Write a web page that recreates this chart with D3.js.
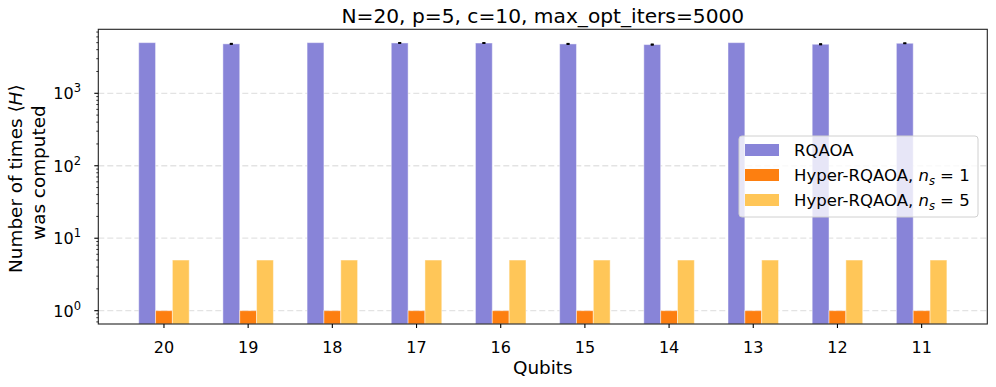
<!DOCTYPE html>
<html><head><meta charset="utf-8">
<script src="https://cdn.jsdelivr.net/npm/d3@7"></script>
<style>body{margin:0;background:#fff}svg{display:block}text{font-family:"DejaVu Sans",sans-serif;fill:#000}</style>
</head><body><svg id="c" width="996" height="387"></svg>
<script>
const categories = ["20","19","18","17","16","15","14","13","12","11"];
const rqaoa = [5000, 4810, 5000, 4950, 4940, 4800, 4700, 5000, 4750, 4900];
const rqaoaErr = [0, 40, 0, 20, 30, 45, 55, 0, 50, 30];
const hyper1 = [1,1,1,1,1,1,1,1,1,1];
const hyper5 = [5,5,5,5,5,5,5,5,5,5];
const yTicks = [1, 10, 100, 1000];
const title = "N=20, p=5, c=10, max_opt_iters=5000";

const svg = d3.select("#c");
const L = 98.3, R = 987.3, T = 29.3, B = 324;
const x = d3.scaleLinear().domain([-0.78, categories.length - 1 + 0.78]).range([L, R]);
const y = d3.scaleLog().domain([0.655, 7640]).range([B, T]);
const bw = 0.2;
const series = [
  {name:"RQAOA", vals:rqaoa, off:-0.2, color:"#8884d8"},
  {name:"h1", vals:hyper1, off:0, color:"#fd7f10"},
  {name:"h5", vals:hyper5, off:0.2, color:"#ffc658"}
];

// grid
svg.append("g").selectAll("line").data(yTicks).join("line")
  .attr("x1", L).attr("x2", R).attr("y1", d=>y(d)).attr("y2", d=>y(d))
  .attr("stroke", "#e3e3e3").attr("stroke-width", 1.3).attr("stroke-dasharray", "6,3");

// bars
series.forEach(s => {
  svg.append("g").selectAll("rect").data(s.vals).join("rect")
    .attr("x", (d,i)=>x(i + s.off - bw/2))
    .attr("width", x(bw) - x(0))
    .attr("y", d=>y(d))
    .attr("height", d=>B - y(d))
    .attr("fill", s.color)
    .attr("stroke", "#ffffff").attr("stroke-opacity", 0.45).attr("stroke-width", 1);
});

// error bars
const eg = svg.append("g");
rqaoa.forEach((v,i) => {
  const e = rqaoaErr[i]; if (!e) return;
  const cx = x(i - 0.2);
  eg.append("line").attr("x1",cx).attr("x2",cx).attr("y1",y(v+e)).attr("y2",y(v-e)).attr("stroke","#000").attr("stroke-width",1.5);
  eg.append("line").attr("x1",cx-1.5).attr("x2",cx+1.5).attr("y1",y(v+e)).attr("y2",y(v+e)).attr("stroke","#000").attr("stroke-width",1.5);
  eg.append("line").attr("x1",cx-1.5).attr("x2",cx+1.5).attr("y1",y(v-e)).attr("y2",y(v-e)).attr("stroke","#000").attr("stroke-width",1.5);
});

// frame
svg.append("rect").attr("x",L).attr("y",T).attr("width",R-L).attr("height",B-T)
  .attr("fill","none").attr("stroke","#222").attr("stroke-width",1.1);

// x axis
const xa = svg.append("g");
categories.forEach((c,i)=>{
  xa.append("line").attr("x1",x(i)).attr("x2",x(i)).attr("y1",B).attr("y2",B+4).attr("stroke","#000").attr("stroke-width",1.1);
  xa.append("text").attr("x",x(i)).attr("y",353).attr("text-anchor","middle").style("font-size","16px").text(c);
});
svg.append("text").attr("x",(L+R)/2).attr("y",374).attr("text-anchor","middle").style("font-size","18.4px").text("Qubits");

// y axis
const ya = svg.append("g");
const minor = [];
for (let k=-1;k<=3;k++) for (let m=2;m<=9;m++){ const v=m*Math.pow(10,k); if (v>=0.655 && v<=7640) minor.push(v); }
minor.forEach(v=>ya.append("line").attr("x1",L-2).attr("x2",L).attr("y1",y(v)).attr("y2",y(v)).attr("stroke","#000").attr("stroke-width",0.8));
yTicks.forEach(v=>{
  ya.append("line").attr("x1",L-4).attr("x2",L).attr("y1",y(v)).attr("y2",y(v)).attr("stroke","#000").attr("stroke-width",1.1);
  const t = ya.append("text").attr("x",81).attr("y",y(v)+6).attr("text-anchor","end").style("font-size","16px");
  t.append("tspan").text("10");
  t.append("tspan").attr("dy",-7).style("font-size","11.5px").text(String(Math.round(Math.log10(v))));
});
const yl = svg.append("text").attr("transform",`translate(0,${(T+B)/2}) rotate(-90)`).attr("text-anchor","middle").style("font-size","18.4px");
yl.append("tspan").attr("x",-2).attr("y",22).text("Number of times \u27E8");
yl.append("tspan").style("font-style","italic").text("H");
yl.append("tspan").text("\u27E9");
yl.append("tspan").attr("x",4).attr("y",45).text("was computed");

// title
svg.append("text").attr("x",(L+R)/2).attr("y",22.5).attr("text-anchor","middle").style("font-size","20.2px").text(title);

// legend
const lg = svg.append("g");
lg.append("rect").attr("x",739).attr("y",136).attr("width",239).attr("height",81).attr("rx",3)
  .attr("fill","#fff").attr("fill-opacity",0.8).attr("stroke","#d0d0d0").attr("stroke-width",1);
const rowsY = [150, 175, 200];
series.forEach((s,i)=>{
  lg.append("rect").attr("x",745).attr("y",rowsY[i]-6).attr("width",34).attr("height",12).attr("fill",s.color);
  const t = lg.append("text").attr("x",794).attr("y",rowsY[i]+6).style("font-size","16.5px");
  if (i===0) t.text("RQAOA");
  else {
    t.append("tspan").text("Hyper-RQAOA, ");
    t.append("tspan").style("font-style","italic").text("n");
    t.append("tspan").attr("dy",4).style("font-size","11.5px").style("font-style","italic").text("s");
    t.append("tspan").attr("dy",-4).text(" = " + (i===1 ? "1" : "5"));
  }
});
</script></body></html>
